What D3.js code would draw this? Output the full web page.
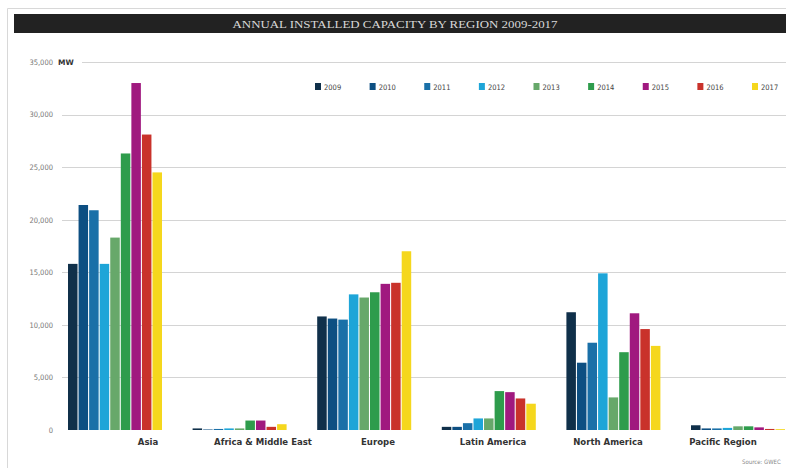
<!DOCTYPE html>
<html>
<head>
<meta charset="utf-8">
<script src="https://cdn.jsdelivr.net/npm/d3@7"></script>
<style>
  html, body { margin: 0; padding: 0; background: #fff; }
  svg { display: block; }
</style>
</head>
<body>
<svg id="chart" width="786" height="468"></svg>
<script>
const title = "ANNUAL INSTALLED CAPACITY BY REGION 2009-2017";
const regions = ["Asia", "Africa & Middle East", "Europe", "Latin America", "North America", "Pacific Region"];
const years = ["2009", "2010", "2011", "2012", "2013", "2014", "2015", "2016", "2017"];
const colors = ["#10304a", "#0d4f82", "#1a70a8", "#1ea5d8", "#67a86a", "#2e9c4c", "#a0197f", "#c9322b", "#f5d71d"];
// MW installed, one array per region, in year order
const asia        = [15800, 21400, 20900, 15800, 18300, 26300, 33000, 28100, 24500];
const africaME    = [150, 50, 100, 150, 150, 900, 900, 300, 550];
const europe      = [10800, 10600, 10500, 12900, 12600, 13100, 13900, 14000, 17000];
const latinAm     = [300, 300, 650, 1100, 1100, 3700, 3600, 3000, 2500];
const northAm     = [11200, 6400, 8300, 14900, 3100, 7400, 11100, 9600, 8000];
const pacific     = [450, 150, 150, 200, 350, 350, 250, 100, 80];
const seriesByRegion = [asia, africaME, europe, latinAm, northAm, pacific];
const yTicks = [0, 5000, 10000, 15000, 20000, 25000, 30000, 35000];
const unitLabel = "MW";
const source = "Source: GWEC";

const svg = d3.select("#chart");
const narrow = "'Liberation Sans Narrow', 'DejaVu Sans Condensed', 'Arial Narrow', sans-serif";

// frame
svg.append("path").attr("d", "M7.5,468 V8.5 H786").attr("fill", "none").attr("stroke", "#d8d8d8").attr("stroke-width", 1);

// title bar
svg.append("rect").attr("x", 14).attr("y", 14).attr("width", 772).attr("height", 19).attr("fill", "#222");
svg.append("text").attr("x", 395).attr("y", 27.5).attr("text-anchor", "middle")
  .attr("font-family", "'Liberation Serif', 'DejaVu Serif', serif").attr("font-size", 10.5)
  .attr("textLength", 325).attr("lengthAdjust", "spacingAndGlyphs")
  .attr("fill", "#d8d8d8").text(title);

// scales
const y = d3.scaleLinear().domain([0, 35000]).range([430, 62]);
const x0 = d3.scaleBand().domain(regions).range([52.7, 800.3]).paddingInner(0.2456).paddingOuter(0.1228);
const x1 = d3.scaleBand().domain(years).range([0, x0.bandwidth()]).paddingInner(0.1).paddingOuter(0);
const labelX = d3.scalePoint().domain(regions).range([148, 723]);
const color = d3.scaleOrdinal().domain(years).range(colors);

// gridlines
svg.append("g").selectAll("line").data(yTicks.filter(t => t > 0)).join("line")
  .attr("x1", d => d === 35000 ? 82 : 62).attr("x2", 786)
  .attr("y1", d => Math.round(y(d)) + 0.5).attr("y2", d => Math.round(y(d)) + 0.5)
  .attr("stroke", "#d4d4d4").attr("stroke-width", 1);

// y axis labels
const yAxis = d3.axisLeft(y).tickValues(yTicks).tickSize(0).tickPadding(0)
  .tickFormat(d => d3.format(",")(d));
const gy = svg.append("g").attr("transform", "translate(53,0)").call(yAxis);
gy.select(".domain").remove();
gy.selectAll("text").attr("font-family", narrow).attr("font-size", 7.5).attr("fill", "#777");

svg.append("text").attr("x", 58).attr("y", 64.5).attr("font-family", "'DejaVu Sans', sans-serif")
  .attr("font-weight", "bold").attr("font-size", 7.5).attr("fill", "#333").text(unitLabel);

// bars
const groups = svg.append("g").selectAll("g").data(regions).join("g")
  .attr("transform", d => `translate(${x0(d)},0)`);
groups.selectAll("rect").data((r, i) => seriesByRegion[i].map((v, j) => ({ year: years[j], value: v })))
  .join("rect")
  .attr("x", d => x1(d.year))
  .attr("width", x1.bandwidth())
  .attr("y", d => y(d.value))
  .attr("height", d => y(0) - y(d.value))
  .attr("fill", d => color(d.year));

// region labels
svg.append("g").selectAll("text").data(regions).join("text")
  .attr("x", d => labelX(d)).attr("y", 445).attr("text-anchor", "middle")
  .attr("font-family", narrow).attr("font-weight", "bold").attr("font-size", 9.5)
  .attr("fill", "#333").text(d => d);

// legend
const legX = d3.scaleLinear().domain([0, years.length - 1]).range([315, 752]);
const leg = svg.append("g").selectAll("g").data(years).join("g")
  .attr("transform", (d, i) => `translate(${legX(i)},83)`);
leg.append("rect").attr("width", 6).attr("height", 7).attr("fill", d => color(d));
leg.append("text").attr("x", 9).attr("y", 6.5).attr("font-family", narrow)
  .attr("font-size", 7.5).attr("fill", "#444").text(d => d);

// source
svg.append("text").attr("x", 742).attr("y", 464).attr("font-family", narrow)
  .attr("font-size", 6).attr("fill", "#888").text(source);
</script>
</body>
</html>
